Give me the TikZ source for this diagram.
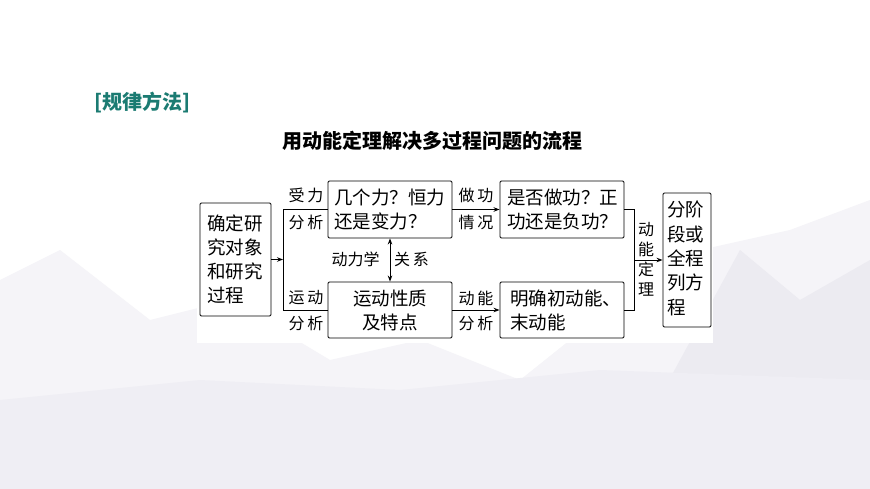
\documentclass[tikz,border=0pt]{standalone}
\usepackage{fontspec}
\setmainfont{Noto Sans CJK SC}
\newfontfamily\cjk{Noto Sans CJK SC}
\usetikzlibrary{arrows.meta}
\definecolor{teal1}{HTML}{1B7B72}
\definecolor{bgA}{HTML}{F5F4F8}
\definecolor{bgB}{HTML}{ECEBF1}
\definecolor{bgC}{HTML}{EFEEF4}
\tikzset{
  box/.style={draw, line width=0.9pt, rounded corners=1.2pt, inner sep=0pt, anchor=center},
  btxt/.style={font=\cjk\fontsize{18.5}{24}\selectfont, inner sep=0pt},
  lbl/.style={font=\cjk\fontsize{16}{20}\selectfont, inner sep=0pt},
  conn/.style={line width=0.9pt},
  arr/.style={line width=0.9pt, -{Stealth[length=6pt,width=4.5pt]}},
}
\begin{document}
\begin{tikzpicture}[x=1pt,y=-1pt]
\useasboundingbox (0,0) rectangle (870,489);
\fill[white] (0,0) rectangle (870,489);
% background
\fill[bgA] (0,489) -- (0,280) -- (60,250) -- (150,320) -- (230,300) -- (330,360) -- (420,340) -- (520,380) -- (620,300) -- (700,250) -- (790,230) -- (870,200) -- (870,489) -- cycle;
\fill[bgB] (610,489) -- (680,360) -- (740,250) -- (800,300) -- (870,260) -- (870,489) -- cycle;
\fill[bgC] (0,489) -- (0,400) -- (200,380) -- (400,390) -- (600,370) -- (870,380) -- (870,489) -- cycle;
\fill[white] (197,174) rectangle (713,343);
% titles
\node[font=\cjk\bfseries\fontsize{20}{24}\selectfont, text=teal1, anchor=west, inner sep=0pt] (t1) at (94,103) {[规律方法]};
\node[font=\cjk\bfseries\fontsize{20}{24}\selectfont, inner sep=0pt] (t2) at (432,141) {用动能定理解决多过程问题的流程};
% boxes
\node[box, minimum width=71pt, minimum height=113pt] (b0) at (235.5,259.5) {};
\node[box, minimum width=124pt, minimum height=57pt] (b1) at (390,209.5) {};
\node[box, minimum width=124pt, minimum height=56pt] (b3) at (390,310) {};
\node[box, minimum width=124pt, minimum height=57pt] (b2) at (562,209.5) {};
\node[box, minimum width=124pt, minimum height=56pt] (b4) at (562,310) {};
\node[box, minimum width=48pt, minimum height=134pt] (b5) at (687,260) {};
% box texts
\node[btxt, align=left, anchor=west] (x0) at (207,259.5) {确定研\\究对象\\和研究\\过程};
\node[btxt, align=left, anchor=west] (x1) at (334,209.5) {几个力？恒力\\还是变力？};
\node[btxt, align=center] (x3) at (390,310) {运动性质\\及特点};
\node[btxt, align=left, anchor=west] (x2) at (507,209.5) {是否做功？正\\功还是负功？};
\node[btxt, align=left, anchor=west] (x4) at (510,310) {明确初动能、\\末动能};
\node[btxt, align=left, anchor=west, font=\cjk\fontsize{18.5}{24.4}\selectfont] (x5) at (667,258.5) {分阶\\段或\\全程\\列方\\程};
% coordinates
\coordinate (s1) at (283,209.5);
\coordinate (s2) at (283,310);
\coordinate (sm) at (283,259.5);
\coordinate (j1) at (634,209.5);
\coordinate (j2) at (634,310);
\coordinate (jm) at (634,260);
% connectors
\draw[arr] (b0.east |- sm) -- (sm);
\draw[conn] (b1.west) -- (s1) -- (s2) -- (b3.west);
\draw[arr] (b1.east) -- (b2.west);
\draw[arr] (b3.east) -- (b4.west);
\draw[line width=0.9pt, {Stealth[length=6pt,width=4.5pt]}-{Stealth[length=6pt,width=4.5pt]}] (b1.south) -- (b3.north);
\draw[conn] (b2.east) -- (j1) -- (j2) -- (b4.east);
\draw[arr] (jm) -- (b5.west |- jm);
% labels
\node[lbl] (l1) at (306,195) {受\,力};
\node[lbl] (l2) at (306,222) {分\,析};
\node[lbl] (l3) at (306,298) {运\,动};
\node[lbl] (l4) at (306,323) {分\,析};
\node[lbl] (l5) at (476,195) {做\,功};
\node[lbl] (l6) at (476,222) {情\,况};
\node[lbl] (l7) at (476,298) {动\,能};
\node[lbl] (l8) at (476,323) {分\,析};
\node[lbl] (l9) at (355.5,259.5) {动力学};
\node[lbl] (l10) at (411.5,259.5) {关\,系};
\node[lbl, align=center] (l11) at (646,259.5) {动\\能\\定\\理};
\end{tikzpicture}
\end{document}
